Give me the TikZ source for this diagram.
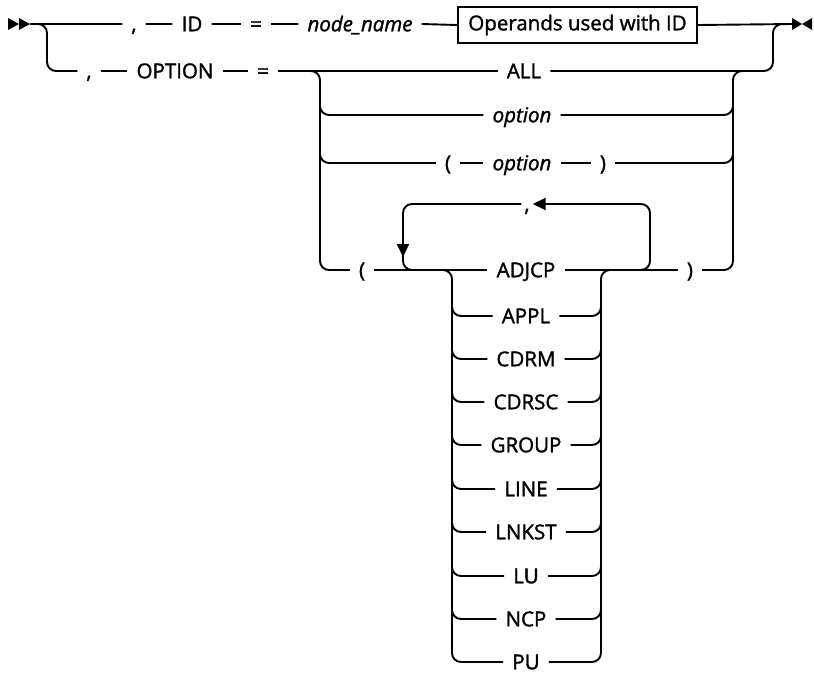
\documentclass[tikz,border=0pt]{standalone}
\usepackage{fontspec}
\setmainfont{Open Sans}[FakeBold=1.5]
\usetikzlibrary{arrows.meta}
\begin{document}
\begin{tikzpicture}[x=1pt,y=-1pt,
  rail/.style={line width=1.9pt, line cap=butt},
  rc/.style={rail, rounded corners=9pt},
  lbl/.style={inner xsep=9pt, inner ysep=0pt, text height=14.5pt, text depth=0pt, font=\fontsize{20.5}{21}\selectfont},
  var/.style={lbl, font=\fontsize{20.5}{21}\selectfont\itshape},
  opbox/.style={draw, line width=1.7pt, minimum width=239pt, minimum height=36pt, inner sep=0pt, font=\fontsize{20.5}{21}\selectfont},
  tip/.style={-{Triangle[length=13pt,width=12pt]}}]
\useasboundingbox (0,0) rectangle (814,673);
% markers
\fill (8,18) -- (19,24) -- (8,30) -- cycle;
\fill (19,18) -- (30,24) -- (19,30) -- cycle;
\fill (792,18) -- (802,24) -- (792,30) -- cycle;
\fill (812,18) -- (802,24) -- (812,30) -- cycle;
\coordinate (s) at (30,24);
\coordinate (e) at (792,24);
% row 1
\node[lbl] (c1) at (134,24) {,};
\node[lbl] (id) at (192,24) {ID};
\node[lbl] (eq1) at (256,24) {=};
\node[var] (nn) at (360,24) {node\_name};
\node[opbox] (ops) at (577.5,25) {Operands used with ID};
\draw[rail] (s) -- (c1.west) (c1.east) -- (id.west) (id.east) -- (eq1.west)
  (eq1.east) -- (nn.west) (nn.east) -- (ops.west) (ops.east) -- (e);
% row 2
\node[lbl] (c2) at (89,71) {,};
\node[lbl] (opt) at (175,71) {OPTION};
\node[lbl] (eq2) at (263,71) {=};
\node[lbl] (all) at (524,71) {ALL};
\draw[rc] (s) -| (47,71) -- (c2.west);
\draw[rail] (c2.east) -- (opt.west) (opt.east) -- (eq2.west) (eq2.east) -- (all.west);
\draw[rc] (all.east) -| (773,24) -- (e);
% option rows
\coordinate (Lt) at (300,71);
\coordinate (Rt) at (750,71);
\node[var] (o1) at (522,115) {option};
\node[lbl] (p1) at (448,163) {(};
\node[var] (o2) at (522,163) {option};
\node[lbl] (p2) at (603,163) {)};
\node[lbl] (lp) at (362,270) {(};
\node[lbl] (adj) at (526,270) {ADJCP};
\node[lbl] (rp) at (690,270) {)};
\draw[rc] (Lt) -| (320,270) -- (lp.west);
\draw[rc] (320,95) |- (o1.west);
\draw[rc] (o1.east) -| (733,95);
\draw[rc] (320,140) |- (p1.west);
\draw[rail] (p1.east) -- (o2.west) (o2.east) -- (p2.west);
\draw[rc] (p2.east) -| (733,140);
\draw[rail] (lp.east) -- (adj.west) (adj.east) -- (rp.west);
\draw[rc] (rp.east) -| (733,71) -- (Rt);
% repeat loop
\node[lbl, inner xsep=3pt] (lc) at (527,204) {,};
\draw[rc, tip] (625,270) -| (650,204) -- (lc.east);
\draw[rc] (lc.west) -| (403,270) -- (420,270);
\draw[rail, tip] (403,225) -- (403,257);
% choices
\node[lbl] (pu) at (526,662) {PU};
\draw[rc] (440,270) -| (452,662) -- (pu.west);
\draw[rc] (pu.east) -| (601,270) -- (615,270);
\foreach \t/\y in {APPL/316, CDRM/359, CDRSC/402, GROUP/445, LINE/489, LNKST/532, LU/576, NCP/619} {
  \node[lbl] (ch\t) at (526,\y) {\t};
  \draw[rc] (452,\y-25) |- (ch\t.west);
  \draw[rc] (ch\t.east) -| (601,\y-25);
}
\end{tikzpicture}
\end{document}
